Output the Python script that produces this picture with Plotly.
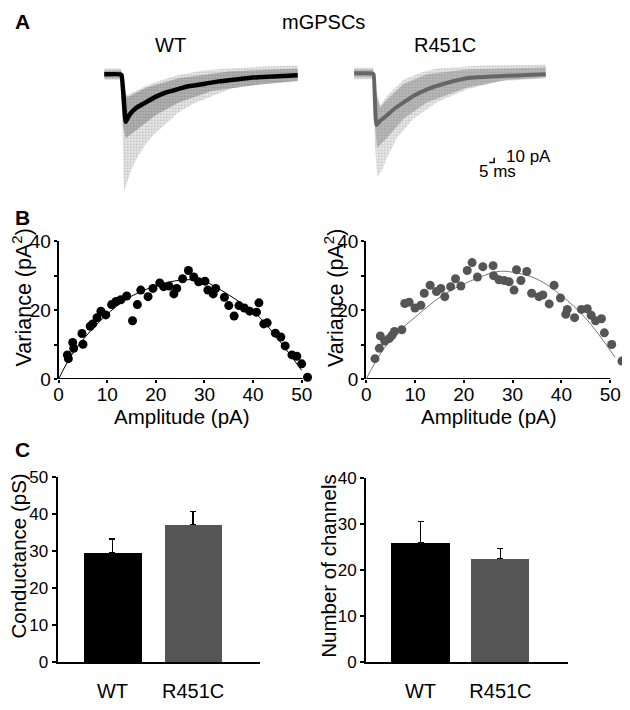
import plotly.graph_objects as go

# ---------------- DATA ----------------
# Panel A: mGPSC traces (time in ms, current in pA)
wt_mean_t = [0, 16, 17.5, 21.7, 25, 31.7, 41.7, 51.7, 61.7, 75, 85, 101.7, 115, 135, 155, 175, 195]
wt_mean_i = [0, 0, -2, -98, -84.6, -70, -58, -46.6, -38, -30, -24.6, -19.4, -14.6, -10, -6, -4, -2]
wt_outer_up_t = [0, 17, 19, 22, 30, 42, 58, 75, 100, 125, 160, 195]
wt_outer_up_i = [12, 12, -12, -44, -36, -24, -12, -1.4, 8, 12, 16, 18]
wt_outer_lo_t = [0, 17, 19, 20, 23, 27, 33, 41.7, 50, 58.3, 75, 90, 108.3, 130, 155, 195]
wt_outer_lo_i = [-12, -12, -168, -242, -224, -198, -172, -144, -124, -108, -78, -60, -44.6, -28, -18, -12]
wt_core_up_t = [0, 17, 20, 23, 42, 75, 125, 195]
wt_core_up_i = [8, 8, -28, -48, -28, -8, 6, 12]
wt_core_lo_t = [0, 17, 19, 21.7, 35, 51.7, 75, 108.3, 155, 195]
wt_core_lo_i = [-8, -8, -108, -132, -111.4, -84.6, -58, -34.6, -21.4, -14]

mut_mean_t = [0, 18, 19.5, 22.3, 26, 33, 41, 49.7, 60, 73, 93, 113, 153, 193]
mut_mean_i = [0, 0, -2, -106.6, -98, -86.6, -72, -60, -46, -33.4, -20, -10, -5, -2]
mut_outer_up_t = [0, 19, 21, 26.3, 33, 49.7, 68, 83, 128, 193]
mut_outer_up_i = [12, 12, -30, -66, -46, -13.4, 2, 10, 16, 18]
mut_outer_lo_t = [0, 19, 21, 23, 28, 33, 43, 59.7, 83, 113, 148, 193]
mut_outer_lo_i = [-12, -12, -150, -213.4, -200, -173.4, -133.4, -93.4, -60, -33.4, -16, -10]
mut_core_up_t = [0, 19, 22, 26, 33, 49.7, 73, 113, 193]
mut_core_up_i = [8, 8, -40, -70, -54, -22, -2, 8, 12]
mut_core_lo_t = [0, 19, 21, 23, 33, 49.7, 73, 113, 153, 193]
mut_core_lo_i = [-8, -8, -110, -153.4, -133.4, -93.4, -60, -30, -14, -8]

# scale bar (10 pA, 5 ms)
scalebar_t = [136, 141, 141]
scalebar_i = [-184, -184, -174]

# Panel B: non-stationary fluctuation analysis
wt_amp = [1.8, 2.0, 2.9, 3.1, 4.8, 5.0, 6.5, 7.0, 7.9, 8.7, 9.7, 10.9, 11.8, 12.8, 14.0,
          15.2, 16.2, 16.9, 18.4, 19.4, 20.8, 21.6, 22.7, 23.7, 24.3, 25.5, 26.7, 27.8,
          28.8, 30.1, 30.7, 31.8, 32.3, 34.1, 35.0, 36.1, 37.1, 38.2, 39.3, 40.7, 41.2,
          42.2, 42.9, 44.6, 45.7, 46.6, 48.0, 49.0, 50.0, 51.2]
wt_var = [7.0, 5.9, 10.6, 8.9, 13.2, 10.1, 15.3, 16.0, 17.8, 19.7, 18.6, 21.6, 22.5, 23.0, 24.1,
          16.9, 21.6, 25.8, 23.9, 26.3, 27.9, 26.8, 27.0, 24.7, 26.3, 29.1, 31.5, 29.6,
          28.2, 28.4, 25.8, 24.7, 26.3, 23.7, 21.3, 18.3, 21.3, 20.6, 19.7, 19.4, 22.1,
          16.0, 16.3, 13.3, 12.2, 9.6, 7.0, 6.6, 4.4, 0.5]
wt_fit_amp = [0, 3.3, 9.4, 14.8, 21.6, 26, 30, 32.2, 36, 40.6, 44.4, 50]
wt_fit_var = [0, 8.3, 18.0, 23.9, 27.7, 28.8, 28.3, 26.8, 23.5, 18.9, 12.9, 2.5]

mut_amp = [1.8, 2.7, 2.9, 3.8, 4.7, 5.3, 5.8, 7.3, 7.9, 8.8, 10.0, 11.2, 11.9, 13.1, 14.4,
           15.3, 16.1, 17.3, 18.3, 19.4, 20.7, 21.7, 22.8, 23.9, 26.0, 26.1, 27.2, 28.3,
           29.3, 30.3, 30.8, 31.7, 32.9, 33.9, 35.4, 36.2, 37.5, 38.5, 39.8, 40.9, 41.2,
           42.7, 44.1, 45.3, 46.1, 47.0, 48.2, 48.8, 50.3, 52.4]
mut_var = [5.9, 8.9, 12.5, 11.0, 11.7, 12.7, 13.8, 14.3, 21.9, 22.3, 20.6, 21.4, 24.9, 27.2, 25.4,
           26.3, 23.9, 26.8, 29.1, 27.0, 31.5, 33.8, 29.6, 32.6, 32.9, 30.0, 28.8, 28.6,
           28.2, 25.8, 31.7, 28.6, 31.2, 24.9, 23.9, 24.4, 21.8, 27.2, 23.5, 18.8, 20.2,
           17.8, 20.2, 20.4, 18.5, 16.9, 17.5, 13.4, 10.0, 5.2]
mut_fit_amp = [0, 3, 6, 10, 16, 23, 27, 30, 35, 40, 45, 51]
mut_fit_var = [0, 7.5, 12.9, 17.9, 24.6, 29.4, 31.2, 31.0, 29.0, 24.2, 17.6, 6.3]

# x-axis extent (pA) of the two amplitude axes
amp_axis_end = [50.2, 50.0]

# Panel C: bar charts
groups = ["WT", "R451C"]
conductance = [29.4, 37.1]
conductance_err = [3.8, 3.5]
n_channels = [25.8, 22.5]
n_channels_err = [4.7, 2.1]

# ---------------- LAYOUT HELPERS ----------------
W, H = 630, 710
OFF = 8  # page body margin of the html page
FONT = "Liberation Sans, Arial, Helvetica, sans-serif"


def dx(a, b):
    return [max(0, (a - OFF) / W), min(1, (b - OFF) / W)]


def dy(top, bottom):
    return [max(0, 1 - (bottom - OFF) / H), min(1, 1 - (top - OFF) / H)]


def polygon(ut, ui, lt, li):
    return list(ut) + list(lt)[::-1], list(ui) + list(li)[::-1]


fig = go.Figure()

# ---------------- PANEL A ----------------
for (xa, ya, out, core, mean_t, mean_i, mcol, mw, obg, ofg, cbg, cfg) in [
    ("x", "y",
     (wt_outer_up_t, wt_outer_up_i, wt_outer_lo_t, wt_outer_lo_i),
     (wt_core_up_t, wt_core_up_i, wt_core_lo_t, wt_core_lo_i),
     wt_mean_t, wt_mean_i, "#000000", 4.5, "#eaeaea", "#8a8a8a", "#b4b4b4", "#6e6e6e"),
    ("x2", "y2",
     (mut_outer_up_t, mut_outer_up_i, mut_outer_lo_t, mut_outer_lo_i),
     (mut_core_up_t, mut_core_up_i, mut_core_lo_t, mut_core_lo_i),
     mut_mean_t, mut_mean_i, "#666666", 4.0, "#ebebeb", "#909090", "#bdbdbd", "#7a7a7a"),
]:
    px_, py_ = polygon(*out)
    fig.add_trace(go.Scatter(x=px_, y=py_, xaxis=xa, yaxis=ya, mode="lines",
                             line=dict(width=0), fill="toself", fillcolor=obg,
                             fillpattern=dict(shape=".", bgcolor=obg, fgcolor=ofg,
                                              size=3, solidity=0.35),
                             showlegend=False, hoverinfo="skip"))
    cx_, cy_ = polygon(*core)
    fig.add_trace(go.Scatter(x=cx_, y=cy_, xaxis=xa, yaxis=ya, mode="lines",
                             line=dict(width=0), fill="toself", fillcolor=cbg,
                             fillpattern=dict(shape=".", bgcolor=cbg, fgcolor=cfg,
                                              size=3, solidity=0.4),
                             showlegend=False, hoverinfo="skip"))
    fig.add_trace(go.Scatter(x=mean_t, y=mean_i, xaxis=xa, yaxis=ya, mode="lines",
                             line=dict(color=mcol, width=mw, shape="spline", smoothing=0.4),
                             showlegend=False, hoverinfo="skip"))

fig.add_trace(go.Scatter(x=scalebar_t, y=scalebar_i, xaxis="x2", yaxis="y2", mode="lines",
                         line=dict(color="black", width=1.5), showlegend=False,
                         hoverinfo="skip"))

# ---------------- PANEL B ----------------
fig.add_trace(go.Scatter(x=wt_fit_amp, y=wt_fit_var, xaxis="x3", yaxis="y3", mode="lines",
                         line=dict(color="black", width=1, shape="spline"),
                         showlegend=False))
fig.add_trace(go.Scatter(x=wt_amp, y=wt_var, xaxis="x3", yaxis="y3", mode="markers",
                         marker=dict(color="black", size=9), cliponaxis=False,
                         showlegend=False))
fig.add_trace(go.Scatter(x=mut_fit_amp, y=mut_fit_var, xaxis="x4", yaxis="y4", mode="lines",
                         line=dict(color="#777777", width=1, shape="spline"),
                         showlegend=False))
fig.add_trace(go.Scatter(x=mut_amp, y=mut_var, xaxis="x4", yaxis="y4", mode="markers",
                         marker=dict(color="#555555", size=9), cliponaxis=False,
                         showlegend=False))

# ---------------- PANEL C ----------------
bar_colors = ["#000000", "#555555"]
fig.add_trace(go.Bar(x=groups, y=conductance, xaxis="x5", yaxis="y5", width=0.714,
                     marker=dict(color=bar_colors, line=dict(width=0)),
                     error_y=dict(type="data", symmetric=False, array=conductance_err,
                                  arrayminus=[0, 0], color="black", thickness=1.5, width=3),
                     showlegend=False))
fig.add_trace(go.Bar(x=groups, y=n_channels, xaxis="x6", yaxis="y6", width=0.73,
                     marker=dict(color=bar_colors, line=dict(width=0)),
                     error_y=dict(type="data", symmetric=False, array=n_channels_err,
                                  arrayminus=[0, 0], color="black", thickness=1.5, width=3),
                     showlegend=False))

# ---------------- AXES ----------------
hidden = dict(visible=False, showgrid=False, zeroline=False, fixedrange=True)
common = dict(showline=True, linecolor="black", linewidth=2, showgrid=False, zeroline=False,
              ticks="outside", ticklen=3, tickwidth=1.5, tickcolor="black",
              tickfont=dict(size=19, color="black", family=FONT))
minor_y = dict(dtick=10, tick0=0, ticks="outside", ticklen=3, tickwidth=1.5,
               tickcolor="black", showgrid=False)

AMP_MAX = 53.5  # visible amplitude range so that the last points are drawn
layout_axes = dict(
    xaxis=dict(hidden, domain=dx(95, 300), range=[-5, 200], anchor="y"),
    yaxis=dict(hidden, domain=dy(50, 195), range=[-258, 32], anchor="x"),
    xaxis2=dict(hidden, domain=dx(345, 560), range=[-7, 208], anchor="y2"),
    yaxis2=dict(hidden, domain=dy(50, 195), range=[-260, 30], anchor="x2"),
    xaxis3=dict(common, domain=dx(54, 54 + 4.9 * AMP_MAX), range=[0, AMP_MAX], anchor="y3",
                showline=False, tickvals=[0, 10, 20, 30, 40, 50], ticklabelstandoff=-5,
                layer="below traces"),
    yaxis3=dict(common, domain=dy(238, 380), range=[0, 40], anchor="x3",
                tickmode="linear", tick0=0, dtick=20, minor=minor_y,
                ticklabelstandoff=-1, layer="below traces"),
    xaxis4=dict(common, domain=dx(364, 364 + 4.92 * AMP_MAX), range=[0, AMP_MAX], anchor="y4",
                showline=False, tickvals=[0, 10, 20, 30, 40, 50], ticklabelstandoff=-5,
                layer="below traces"),
    yaxis4=dict(common, domain=dy(238, 380), range=[0, 40], anchor="x4",
                tickmode="linear", tick0=0, dtick=20, minor=minor_y,
                ticklabelstandoff=-1, layer="below traces"),
    xaxis5=dict(common, domain=dx(53, 257), range=[-0.68, 1.83], anchor="y5",
                ticks="", ticklabelstandoff=10, tickfont=dict(size=20, family=FONT, color="black")),
    yaxis5=dict(common, domain=dy(480.7, 671.7), range=[0, 50], anchor="x5",
                tickvals=[0, 10, 20, 30, 40, 50], ticklen=4, tickfont=dict(size=17, family=FONT, color="black")),
    xaxis6=dict(common, domain=dx(364, 567), range=[-0.68, 1.84], anchor="y6",
                ticks="", ticklabelstandoff=10, tickfont=dict(size=20, family=FONT, color="black")),
    yaxis6=dict(common, domain=dy(481.7, 671.7), range=[0, 40], anchor="x6",
                tickvals=[0, 10, 20, 30, 40], ticklen=4, tickfont=dict(size=17, family=FONT, color="black")),
)

# amplitude axis lines (stop at the last tick like the original)
shapes = [
    dict(type="line", xref="x3", yref="y3", x0=0, x1=amp_axis_end[0], y0=0, y1=0,
         line=dict(color="black", width=2), layer="below"),
    dict(type="line", xref="x4", yref="y4", x0=0, x1=amp_axis_end[1], y0=0, y1=0,
         line=dict(color="black", width=2), layer="below"),
]


def ann(text, x, y, size=20, bold=False, angle=0, xanchor="center", xref="paper", yref="paper"):
    if xref == "paper":
        x = max(0, (x - OFF) / W)
        y = 1 - (y - OFF) / H
    return dict(text=f"<b>{text}</b>" if bold else text, x=x, y=y, xref=xref, yref=yref,
                showarrow=False, xanchor=xanchor, yanchor="middle", textangle=angle,
                font=dict(size=size, color="black", family=FONT))


annotations = [
    ann("A", 4, 12, 21, bold=True, xanchor="left"),
    ann("B", 4, 214, 21, bold=True, xanchor="left"),
    ann("C", 4, 453, 21, bold=True, xanchor="left"),
    ann("mGPSCs", 321, 12, 20),
    ann("WT", 167, 36, 20),
    ann("R451C", 443, 36, 20),
    ann("10 pA", 151, -172, 17, xanchor="left", xref="x2", yref="y2"),
    ann("5 ms", 144, -202, 17, xref="x2", yref="y2"),
    ann("Amplitude (pA)", 178, 419, 20.5),
    ann("Amplitude (pA)", 488, 419, 20.5),
    ann("Variance (pA<sup>2</sup>)", 18, 296, 21.5, angle=-90),
    ann("Variance (pA<sup>2</sup>)", 332, 296, 21.5, angle=-90),
    ann("Conductance (pS)", 14, 562, 20.5, angle=-90),
    ann("Number of channels", 326, 573, 20.5, angle=-90),
]

fig.update_layout(
    width=W, height=H, margin=dict(l=0, r=0, t=0, b=0),
    paper_bgcolor="white", plot_bgcolor="white",
    font=dict(family=FONT, color="black"),
    bargap=0, annotations=annotations, shapes=shapes, showlegend=False,
    **layout_axes,
)

fig.write_html("out.html")
